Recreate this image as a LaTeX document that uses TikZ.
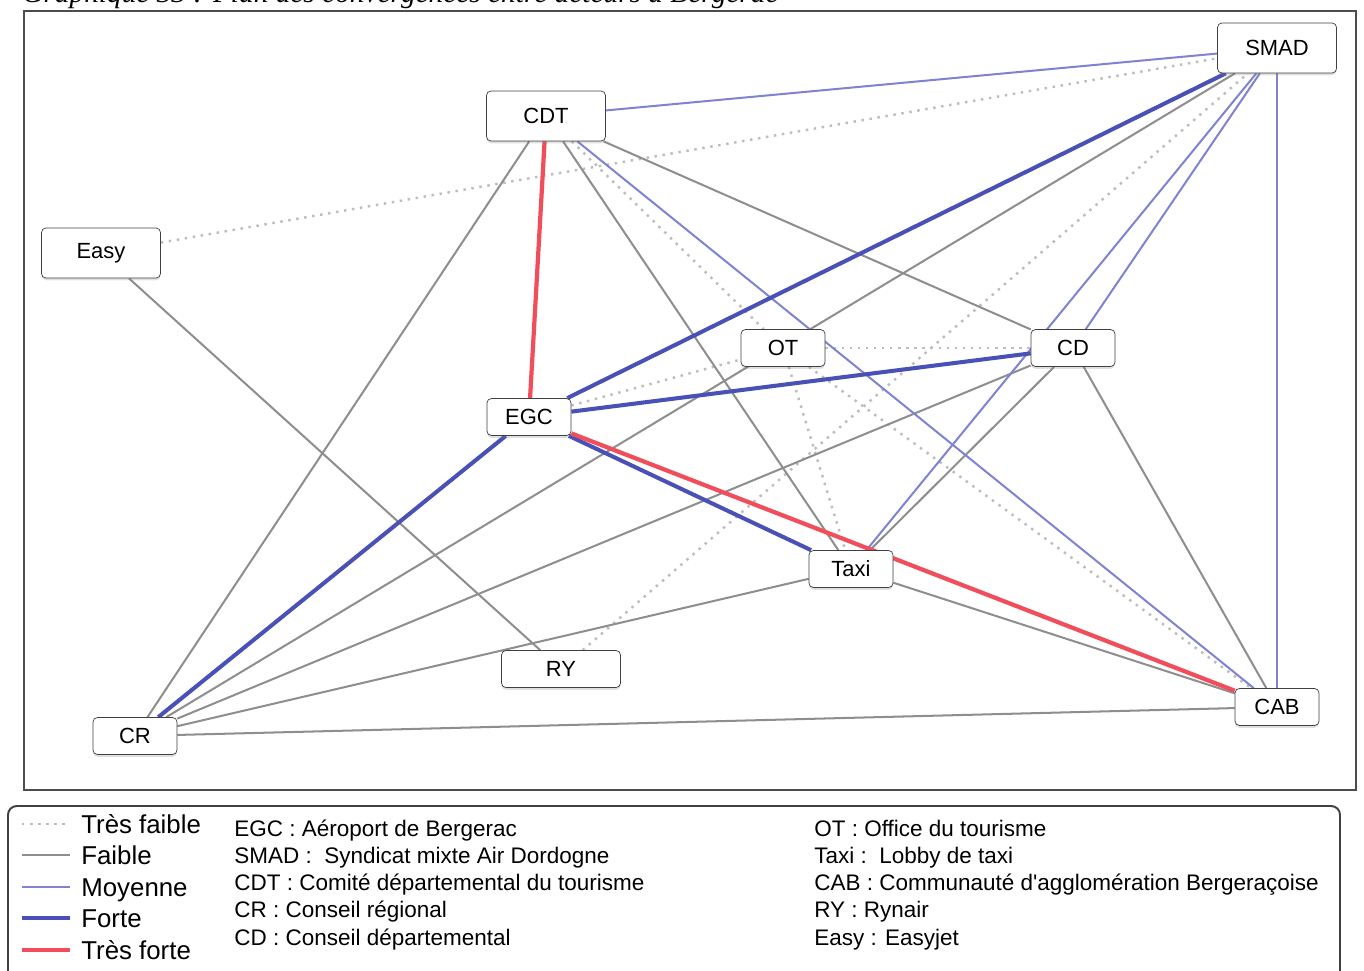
\documentclass[tikz,border=0pt]{standalone}
\usepackage{fontspec}
\setmainfont{Liberation Sans}
\newfontfamily\titlefont{Liberation Serif}
\usetikzlibrary{positioning, shadows}

\definecolor{tfaibleC}{HTML}{BDBDBD}
\definecolor{faibleC}{HTML}{8E8E8E}
\definecolor{moyenneC}{HTML}{8083D2}
\definecolor{forteC}{HTML}{4A51B6}
\definecolor{tforteC}{HTML}{F04E5A}

\pgfdeclarelayer{background}
\pgfsetlayers{background,main}

\begin{document}
\begin{tikzpicture}[x=0.02cm, y=-0.02cm, font=\fontsize{12.5}{14}\selectfont,
	actor/.style={draw=black!75, rounded corners=2.5pt, fill=white, minimum width=1.68cm, minimum height=0.74cm, inner sep=0pt, drop shadow={shadow xshift=0pt, shadow yshift=-1.3pt, opacity=0.25}},
	bigactor/.style={actor, minimum width=2.38cm, minimum height=1.0cm},
	tfaible/.style={draw=tfaibleC, line width=1.4pt, dash pattern=on 1.4pt off 3.2pt},
	faible/.style={draw=faibleC, line width=1.15pt},
	moyenne/.style={draw=moyenneC, line width=1.15pt},
	forte/.style={draw=forteC, line width=2.3pt},
	tforte/.style={draw=tforteC, line width=2.4pt},
	legtxt/.style={anchor=base west, inner sep=0pt, font=\fontsize{12.8}{14}\selectfont},
	legnom/.style={anchor=base west, inner sep=0pt, font=\fontsize{14.7}{16}\selectfont}]
	
	\useasboundingbox (0,0) rectangle (1364,970);
	
	% Titre (coupé en haut)
	\node[anchor=base west, inner sep=0pt, font=\titlefont\itshape\fontsize{16.7}{18}\selectfont] (titre) at (22,3) {Graphique 33 : Plan des convergences entre acteurs à Bergerac};
	
	% Cadre du plan
	\draw[black!70, line width=1.4pt] (24,11) rectangle (1356,790);
	
	% Acteurs
	\node[bigactor] (smad) at (1277,48) {SMAD};
	\node[bigactor] (cdt) at (546,116) {CDT};
	\node[bigactor] (easy) at (101,253) {Easy};
	\node[actor] (ot) at (783,348) {OT};
	\node[actor] (cd) at (1073,348) {CD};
	\node[actor] (egc) at (529,417) {EGC};
	\node[actor] (taxi) at (851,569) {Taxi};
	\node[actor, minimum width=2.38cm] (ry) at (561,669) {RY};
	\node[actor] (cr) at (135,736) {CR};
	\node[actor] (cab) at (1277,707) {CAB};
	
	\begin{pgfonlayer}{background}
	% Très faible
	\draw[tfaible] (easy) -- (smad);
	\draw[tfaible] (ry) -- (smad);
	\draw[tfaible] (cdt) -- (ot);
	\draw[tfaible] (egc) -- (ot);
	\draw[tfaible] (ot) -- (cd);
	\draw[tfaible] (ot) -- (taxi);
	\draw[tfaible] (ot) -- (cab);
	
	% Faible
	\draw[faible] (cdt) -- (cr);
	\draw[faible] (cdt) -- (taxi);
	\draw[faible] (cdt) -- (cd);
	\draw[faible] (smad) -- (cr);
	\draw[faible] (cd) -- (cr);
	\draw[faible] (taxi) -- (cr);
	\draw[faible] (cab) -- (cr);
	\draw[faible] (cd) -- (taxi);
	\draw[faible] (cd) -- (cab);
	\draw[faible] (taxi) -- (cab);
	\draw[faible] (easy) -- (ry);
	
	% Moyenne
	\draw[moyenne] (cdt) -- (smad);
	\draw[moyenne] (cdt) -- (cab);
	\draw[moyenne] (smad) -- (cd);
	\draw[moyenne] (smad) -- (taxi);
	\draw[moyenne] (smad) -- (cab);
	
	% Forte
	\draw[forte] (smad) -- (egc);
	\draw[forte] (egc) -- (cd);
	\draw[forte] (egc) -- (taxi);
	\draw[forte] (egc) -- (cr);
	
	% Très forte
	\draw[tforte] (cdt) -- (egc);
	\draw[tforte] (egc) -- (cab);
	\end{pgfonlayer}
	
	% Légende
	\draw[black!75, line width=1.1pt, rounded corners=5pt] (8,1000) |- (1340,806) -- (1340,1000);
	
	\node[legnom] (leg_tf) at (81,833) {Très faible};
	\node[legnom] (leg_f) at (81,864) {Faible};
	\node[legnom] (leg_m) at (81,896) {Moyenne};
	\node[legnom] (leg_fo) at (81,927) {Forte};
	\node[legnom] (leg_tfo) at (81,959) {Très forte};
	\draw[tfaible] (leg_tf.base west) ++(-59,-9) -- ++(48,0);
	\draw[faible] (leg_f.base west) ++(-59,-9) -- ++(48,0);
	\draw[moyenne] (leg_m.base west) ++(-59,-9) -- ++(48,0);
	\draw[forte] (leg_fo.base west) ++(-59,-9) -- ++(48,0);
	\draw[tforte] (leg_tfo.base west) ++(-59,-9) -- ++(48,0);
	
	\node[legtxt] (def_egc) at (234,836) {EGC : Aéroport de Bergerac};
	\node[legtxt] (def_smad) at (234,863) {SMAD :\ \ Syndicat mixte Air Dordogne};
	\node[legtxt] (def_cdt) at (234,890) {CDT : Comité départemental du tourisme};
	\node[legtxt] (def_cr) at (234,917) {CR : Conseil régional};
	\node[legtxt] (def_cd) at (234,945) {CD : Conseil départemental};
	
	\node[legtxt] (def_ot) at (814,836) {OT : Office du tourisme};
	\node[legtxt] (def_taxi) at (814,863) {Taxi :\ \ Lobby de taxi};
	\node[legtxt] (def_cab) at (814,890) {CAB : Communauté d\textquotesingle agglomération Bergeraçoise};
	\node[legtxt] (def_ry) at (814,917) {RY : Rynair};
	\node[legtxt] (def_easy) at (814,945) {Easy : Easyjet};
\end{tikzpicture}
\end{document}
